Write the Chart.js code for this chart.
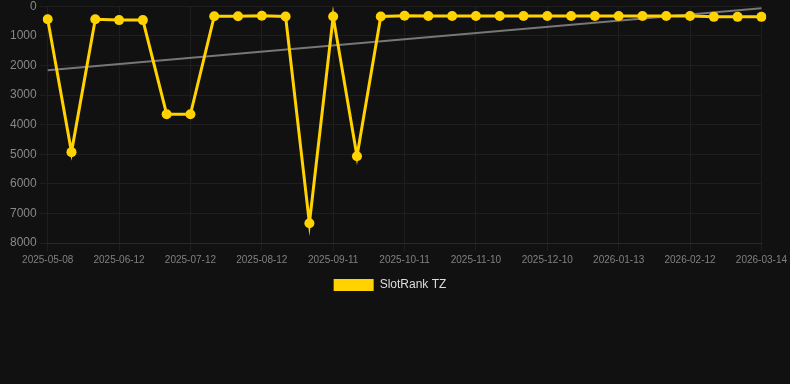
<!DOCTYPE html>
<html lang="en">
<head>
<meta charset="utf-8"/>
<title>SlotRank TZ</title>
<script src="https://cdn.jsdelivr.net/npm/chart.js"></script>
<style>
    html, body {
        margin: 0;
        padding: 0;
        background-color: #111111;
        overflow: hidden;
    }
    .chart-box {
        position: relative;
        width: 790px;
        height: 305px;
        margin-top: -4px;
    }
</style>
</head>
<body>
<div class="chart-box">
<canvas id="rankChart"></canvas>
</div>
<script>
    // dates on the x axis (every 3rd one is labelled)
    const dates = [
        '2025-05-08', '2025-05-20', '2025-06-01', '2025-06-12', '2025-06-22',
        '2025-07-02', '2025-07-12', '2025-07-22', '2025-08-02', '2025-08-12',
        '2025-08-22', '2025-09-01', '2025-09-11', '2025-09-21', '2025-10-01',
        '2025-10-11', '2025-10-21', '2025-10-31', '2025-11-10', '2025-11-20',
        '2025-11-30', '2025-12-10', '2025-12-21', '2026-01-02', '2026-01-13',
        '2026-01-23', '2026-02-02', '2026-02-12', '2026-02-22', '2026-03-04',
        '2026-03-14'
    ];

    // rank values
    const rankValues = [
        440, 4930, 440, 470, 470, 3650, 3650, 340, 340, 320,
        350, 7330, 350, 5070, 350, 320, 330, 330, 330, 330,
        330, 330, 330, 330, 330, 330, 330, 330, 360, 360,
        360
    ];

    // trend line: only its two ends, gaps spanned
    const trendValues = dates.map(() => null);
    trendValues[0] = 2160;
    trendValues[dates.length - 1] = 70;

    const yTicks = [0, 1000, 2000, 3000, 4000, 5000, 6000, 7000, 8000];

    const ctx = document.getElementById('rankChart').getContext('2d');
    new Chart(ctx, {
        type: 'line',
        data: {
            labels: dates,
            datasets: [
                {
                    label: 'SlotRank TZ',
                    data: rankValues,
                    borderColor: '#ffd200',
                    backgroundColor: '#ffd200',
                    borderWidth: 3,
                    pointRadius: 5,
                    pointBackgroundColor: '#ffd200',
                    pointBorderWidth: 0,
                    tension: 0,
                    order: 1
                },
                {
                    label: 'trend',
                    data: trendValues,
                    borderColor: '#777777',
                    borderWidth: 2,
                    pointRadius: 0,
                    spanGaps: true,
                    order: 2
                }
            ]
        },
        options: {
            responsive: true,
            maintainAspectRatio: false,
            animation: false,
            layout: {
                padding: { left: 7, right: 17 }
            },
            scales: {
                x: {
                    grid: {
                        color: (c) => (c.index % 3 === 0 ? '#1e1e1e' : 'rgba(0,0,0,0)'),
                        tickColor: (c) => (c.index % 3 === 0 ? '#1e1e1e' : 'rgba(0,0,0,0)')
                    },
                    border: { color: '#2a2a2a' },
                    ticks: {
                        autoSkip: false,
                        maxRotation: 0,
                        color: '#808080',
                        font: { size: 10 },
                        callback: function(value, index) {
                            return index % 3 === 0 ? this.getLabelForValue(value) : '';
                        }
                    }
                },
                y: {
                    reverse: true,
                    min: 0,
                    max: 8000,
                    afterBuildTicks: (axis) => {
                        axis.ticks = yTicks.map((v) => ({ value: v }));
                    },
                    grid: { color: '#1e1e1e' },
                    border: { display: false },
                    ticks: {
                        color: '#888888',
                        font: { size: 12 },
                        callback: (value) => String(value)
                    }
                }
            },
            plugins: {
                legend: {
                    position: 'bottom',
                    labels: {
                        color: '#dddddd',
                        font: { size: 12 },
                        filter: (item) => item.text !== 'trend',
                        generateLabels: (chart) => {
                            const items = Chart.defaults.plugins.legend.labels.generateLabels(chart);
                            items.forEach((it) => { it.lineWidth = 0; });
                            return items;
                        }
                    }
                },
                tooltip: { enabled: false }
            }
        }
    });
</script>
</body>
</html>
